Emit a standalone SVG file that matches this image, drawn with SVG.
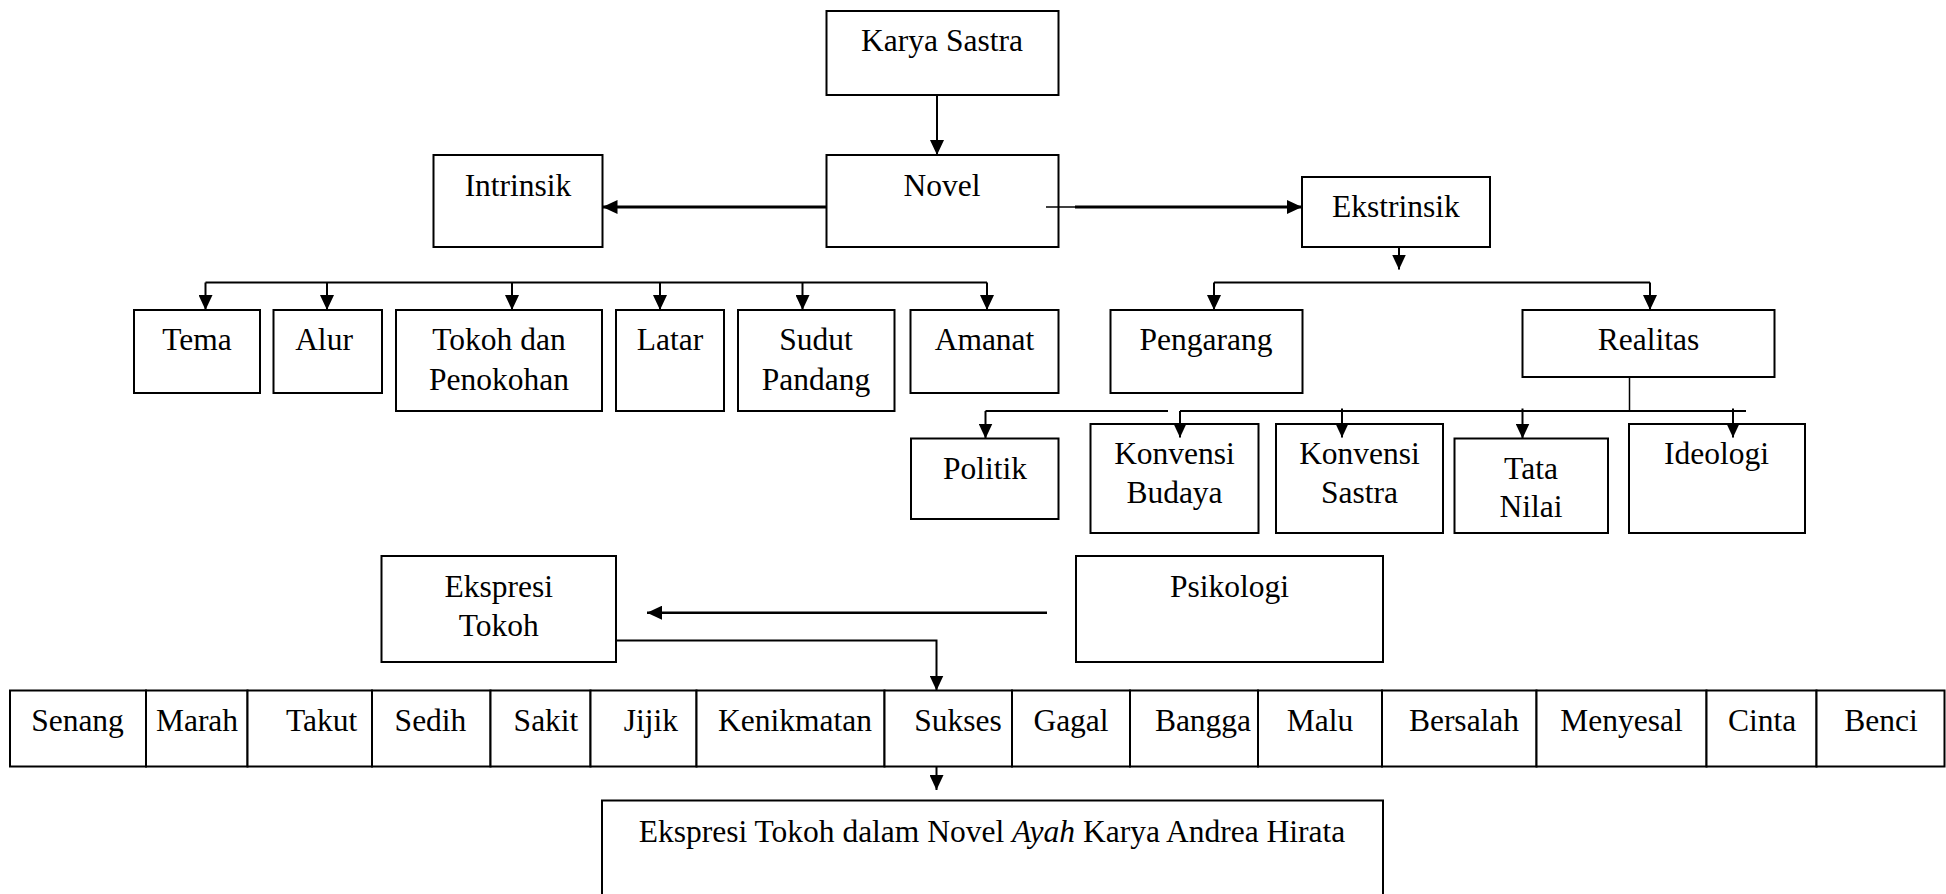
<svg xmlns="http://www.w3.org/2000/svg" width="1946" height="894" viewBox="0 0 1946 894">
<style>
  rect { fill: #fff; stroke: #000; stroke-width: 2; }
  text { font-family: "Liberation Serif", "Times New Roman", serif; font-size: 31.5px; fill: #000; text-anchor: middle; }
  .c { fill: none; stroke: #000; stroke-width: 2; }
  .t { fill: none; stroke: #000; stroke-width: 3; }
  .a { marker-end: url(#ah); }
</style>
<defs>
  <marker id="ah" markerUnits="userSpaceOnUse" markerWidth="15" markerHeight="14" refX="15" refY="7" orient="auto" viewBox="0 0 15 14">
    <path d="M0,0 L15,7 L0,14 z" fill="#000"/>
  </marker>
</defs>
<rect x="0" y="0" width="1946" height="894" style="stroke:none;fill:#fff"/>

<g id="karya-sastra"><rect x="826.5" y="11" width="232" height="84"/><text x="942" y="51">Karya Sastra</text></g>
<g id="novel"><rect x="826.5" y="155" width="232" height="92"/><text x="942" y="196">Novel</text></g>
<g id="intrinsik"><rect x="433.5" y="155" width="169" height="92"/><text x="518" y="196">Intrinsik</text></g>
<g id="ekstrinsik"><rect x="1302" y="177" width="188" height="70"/><text x="1396" y="217">Ekstrinsik</text></g>
<g id="tema"><rect x="134" y="310" width="126" height="83"/><text x="197" y="350">Tema</text></g>
<g id="alur"><rect x="273.5" y="310" width="108.5" height="83"/><text x="324" y="350">Alur</text></g>
<g id="tokoh"><rect x="396" y="310" width="206" height="101"/><text x="499" y="350">Tokoh dan</text><text x="499" y="389.5">Penokohan</text></g>
<g id="latar"><rect x="616" y="310" width="108" height="101"/><text x="670" y="350">Latar</text></g>
<g id="sudut-pandang"><rect x="738" y="310" width="156.5" height="101"/><text x="816" y="350">Sudut</text><text x="816" y="389.5">Pandang</text></g>
<g id="amanat"><rect x="910.5" y="310" width="148" height="83"/><text x="984.5" y="350">Amanat</text></g>
<g id="pengarang"><rect x="1110.5" y="310" width="192" height="83"/><text x="1206" y="350">Pengarang</text></g>
<g id="realitas"><rect x="1522.5" y="310" width="252" height="67"/><text x="1648.5" y="350">Realitas</text></g>
<g id="politik"><rect x="911" y="438.5" width="147.5" height="80.5"/><text x="985" y="478.5">Politik</text></g>
<g id="konvensi-budaya"><rect x="1090.5" y="424" width="168" height="109"/><text x="1174.5" y="463.5">Konvensi</text><text x="1174.5" y="503">Budaya</text></g>
<g id="konvensi-sastra"><rect x="1276" y="424" width="167" height="109"/><text x="1359.5" y="463.5">Konvensi</text><text x="1359.5" y="503">Sastra</text></g>
<g id="tata-nilai"><rect x="1454.5" y="438.5" width="153.5" height="94.5"/><text x="1531" y="478.5">Tata</text><text x="1531" y="517">Nilai</text></g>
<g id="ideologi"><rect x="1629" y="424" width="176" height="109"/><text x="1716.5" y="463.5">Ideologi</text></g>
<g id="ekspresi-tokoh"><rect x="381.5" y="556" width="234.5" height="106"/><text x="498.7" y="597">Ekspresi</text><text x="498.7" y="636">Tokoh</text></g>
<g id="psikologi"><rect x="1076" y="556" width="307" height="106"/><text x="1229.5" y="597">Psikologi</text></g>

<g id="emosi">
  <g id="senang"><rect x="10" y="690.5" width="136" height="76"/><text x="77.5" y="730.5">Senang</text></g>
  <g id="marah"><rect x="146" y="690.5" width="101.5" height="76"/><text x="197" y="730.5">Marah</text></g>
  <g id="takut"><rect x="247.5" y="690.5" width="124.5" height="76"/><text x="321.7" y="730.5">Takut</text></g>
  <g id="sedih"><rect x="372" y="690.5" width="118.5" height="76"/><text x="430.5" y="730.5">Sedih</text></g>
  <g id="sakit"><rect x="490.5" y="690.5" width="100" height="76"/><text x="546" y="730.5">Sakit</text></g>
  <g id="jijik"><rect x="590.5" y="690.5" width="106" height="76"/><text x="651" y="730.5">Jijik</text></g>
  <g id="kenikmatan"><rect x="696.5" y="690.5" width="188" height="76"/><text x="795" y="730.5">Kenikmatan</text></g>
  <g id="sukses"><rect x="884.5" y="690.5" width="127.5" height="76"/><text x="958" y="730.5">Sukses</text></g>
  <g id="gagal"><rect x="1012" y="690.5" width="118" height="76"/><text x="1071" y="730.5">Gagal</text></g>
  <g id="bangga"><rect x="1130" y="690.5" width="128" height="76"/><text x="1203" y="730.5">Bangga</text></g>
  <g id="malu"><rect x="1258" y="690.5" width="124" height="76"/><text x="1320" y="730.5">Malu</text></g>
  <g id="bersalah"><rect x="1382" y="690.5" width="154.5" height="76"/><text x="1464" y="730.5">Bersalah</text></g>
  <g id="menyesal"><rect x="1536.5" y="690.5" width="170" height="76"/><text x="1621.5" y="730.5">Menyesal</text></g>
  <g id="cinta"><rect x="1706.5" y="690.5" width="110" height="76"/><text x="1762" y="730.5">Cinta</text></g>
  <g id="benci"><rect x="1816.5" y="690.5" width="128" height="76"/><text x="1881" y="730.5">Benci</text></g>
</g>

<g id="ekspresi-tokoh-novel-ayah"><rect x="602" y="800.5" width="781" height="110"/><text x="992" y="842">Ekspresi Tokoh dalam Novel <tspan font-style="italic">Ayah</tspan> Karya Andrea Hirata</text></g>

<g id="connectors">
  <line class="c a" x1="937" y1="95" x2="937" y2="155"/>
  <line class="t a" x1="826.5" y1="207" x2="602.5" y2="207"/>
  <line class="c" x1="1046" y1="207" x2="1075" y2="207" style="stroke-width:1.5"/>
  <line class="t a" x1="1075" y1="207" x2="1302" y2="207"/>
  <line class="c" x1="205.5" y1="282.5" x2="987" y2="282.5"/>
  <line class="c a" x1="205.5" y1="282.5" x2="205.5" y2="310"/>
  <line class="c a" x1="327" y1="282.5" x2="327" y2="310"/>
  <line class="c a" x1="512" y1="282.5" x2="512" y2="310"/>
  <line class="c a" x1="660" y1="282.5" x2="660" y2="310"/>
  <line class="c a" x1="802.5" y1="282.5" x2="802.5" y2="310"/>
  <line class="c a" x1="987" y1="282.5" x2="987" y2="310"/>
  <line class="c a" x1="1399" y1="247" x2="1399" y2="269.5"/>
  <line class="c" x1="1214" y1="282.5" x2="1650" y2="282.5"/>
  <line class="c a" x1="1214" y1="282.5" x2="1214" y2="310"/>
  <line class="c a" x1="1650" y1="282.5" x2="1650" y2="310"/>
  <line class="c" x1="1629.5" y1="377" x2="1629.5" y2="411" style="stroke-width:1.5"/>
  <line class="c" x1="985.5" y1="411" x2="1168" y2="411"/>
  <line class="c" x1="1180" y1="411" x2="1746" y2="411"/>
  <line class="c a" x1="985.5" y1="411" x2="985.5" y2="438.5"/>
  <line class="c a" x1="1180" y1="411" x2="1180" y2="437.5"/>
  <line class="c a" x1="1342" y1="408.5" x2="1342" y2="437.5"/>
  <line class="c a" x1="1522.5" y1="408.5" x2="1522.5" y2="438.5"/>
  <line class="c a" x1="1733" y1="408.5" x2="1733" y2="437.5"/>
  <line class="c a" x1="1047" y1="612.7" x2="647" y2="612.7" style="stroke-width:2.5"/>
  <polyline class="c a" points="616,640.5 936.5,640.5 936.5,690.5"/>
  <line class="c a" x1="936.5" y1="766" x2="936.5" y2="790"/>
</g>
</svg>
